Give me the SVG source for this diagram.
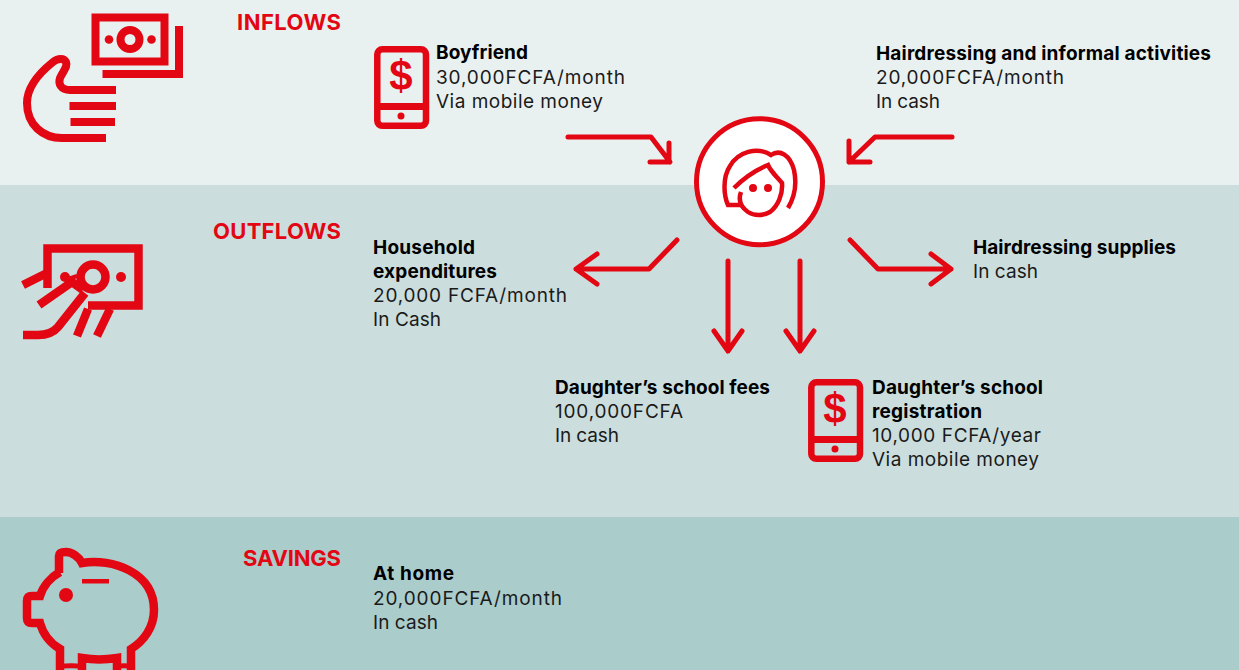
<svg xmlns="http://www.w3.org/2000/svg" width="1239" height="670" viewBox="0 0 1239 670">
<style>
text{font-family:Inter,"Liberation Sans",sans-serif;font-size:19px;fill:#1a1a1a}
.b{font-weight:700;fill:#000}
.h{font-weight:700;font-size:22px;fill:#e30613;text-anchor:end}
.d{font-family:"Liberation Sans",sans-serif;font-size:42px;font-weight:700;fill:#e30613;text-anchor:middle}
.i{fill:none;stroke:#e30613;stroke-width:8}
.o{fill:none;stroke:#e30613;stroke-width:8.500}
.p{fill:none;stroke:#e30613;stroke-width:6.500}
.r{fill:#e30613}
.a{fill:none;stroke:#e30613;stroke-width:5;stroke-linecap:round;stroke-linejoin:round}
.f{fill:none;stroke:#e30613;stroke-width:4.500}
</style>
<rect width="1239" height="185" fill="#e9f1f0"/>
<rect y="185" width="1239" height="332" fill="#cbdedd"/>
<rect y="517" width="1239" height="153" fill="#aacccb"/>
<g id="inflows">
<text class="h" x="341" y="30" textLength="104">INFLOWS</text>
<g id="inflows-icon">
<rect class="i" x="95.500" y="17.500" width="69" height="44"/>
<path class="i" d="M179 26V74H102.500"/>
<circle class="i" cx="130" cy="39.500" r="9.500"/>
<circle class="r" cx="109" cy="39.500" r="4.300"/><circle class="r" cx="151.500" cy="39.500" r="4.300"/>
<path class="i" d="M116 90H70C61 90 58 84 60 78C63 71 68 67 66 62C64 58 58 58 53 62C38 74 27 87 27 103C27 125 43 138 62 138H106"/>
<path class="i" d="M69.500 106H116M70.500 122H115"/>
</g>
</g>
<g id="outflows">
<text class="h" x="341" y="239" textLength="128">OUTFLOWS</text>
<g id="outflows-icon">
<path class="o" d="M47.500 288V248.500H138.500V305.500H88"/>
<circle class="o" cx="93" cy="277" r="12.500"/>
<circle class="r" cx="65" cy="277" r="5"/><circle class="r" cx="121" cy="277" r="5"/>
<path class="o" d="M23 285L47 273M39 305L72 282L83 290M23 335H38C46 335 53 333 58 327L85 293"/>
<path class="o" d="M88 309L77 336M110 309L97 336"/>
<path d="M65 280L77 276" class="o" style="stroke-width:4"/>
</g>
</g>
<g id="savings">
<text class="h" x="341" y="566" textLength="98">SAVINGS</text>
<g id="savings-icon">
<path class="o" d="M59 573V556C59 552 63 552 66 552C72 552 79 557 82 563C112 558 154 572 154 610C154 627 144 641 131 649V670M60 670V649C50 643 43 634 40 623H32C28 623 27 621 27 618V601C27 597 29 596 32 596H40C43 586 51 577 60 572M82 670V658C94 660 104 660 117 658V670"/>
<path class="i" style="stroke-width:5" d="M58 668C60 665 82 665 84 668M115 668C117 665 131 665 133 668"/>
<circle class="r" cx="66" cy="595" r="7"/>
<rect class="r" x="82" y="579" width="27" height="4.500"/>
</g>
</g>
<g id="person">
<circle cx="759.500" cy="181.700" r="63" fill="#fff" stroke="#e30613" stroke-width="5"/>
<path class="f" d="M743 205H728C724 196 722 178 730 166C738 152 757 146 771 155C780 149 790 155 794 170C797 184 794 198 788 208"/>
<path class="f" d="M734 188C744 178 756 170 768 165C771 172 778 178 782 183C783 194 778 206 770 212C763 216 754 216 748 212C741 207 738 200 741 192"/>
<circle class="r" cx="753" cy="188" r="4"/><circle class="r" cx="768" cy="188" r="4"/>
</g>
<g id="connectors" class="a">
<path d="M568 137H651L670 162M669 143V162H650"/>
<path d="M952 137H875L849 162M849 141V162H870"/>
<path d="M677 240L649 269H576M597 254L576 269L597 284"/>
<path d="M850 240L878 269H951M931 254L951 269L931 284"/>
<path d="M728 261V351M714 331L728 351L742 331"/>
<path d="M800 261V351M786 331L800 351L814 331"/>
</g>
<g id="boyfriend">
<rect class="p" x="377.300" y="49.300" width="48.700" height="76.500" rx="5"/><rect class="r" x="377" y="103" width="49" height="7"/><circle class="r" cx="401" cy="116" r="3.500"/><text class="d" x="401" y="90">$</text>
<text class="b" x="436" y="59" textLength="92">Boyfriend</text>
<text x="436" y="84" textLength="189">30,000FCFA/month</text>
<text x="436" y="108" textLength="167">Via mobile money</text>
</g>
<g id="hairdressing-income">
<text class="b" x="876" y="60" textLength="335">Hairdressing and informal activities</text>
<text x="876" y="84" textLength="188">20,000FCFA/month</text>
<text x="876" y="108" textLength="64">In cash</text>
</g>
<g id="household">
<text class="b" x="373" y="254" textLength="102">Household</text>
<text class="b" x="373" y="278" textLength="124">expenditures</text>
<text x="373" y="302" textLength="194">20,000 FCFA/month</text>
<text x="373" y="326" textLength="68">In Cash</text>
</g>
<g id="supplies">
<text class="b" x="973" y="254" textLength="203">Hairdressing supplies</text>
<text x="973" y="278" textLength="65">In cash</text>
</g>
<g id="school-fees">
<text class="b" x="555" y="394" textLength="215">Daughter’s school fees</text>
<text x="555" y="418" textLength="128">100,000FCFA</text>
<text x="555" y="442" textLength="64">In cash</text>
</g>
<g id="school-registration">
<rect class="p" x="811.300" y="382.300" width="48.700" height="76.500" rx="5"/><rect class="r" x="811" y="436" width="49" height="7"/><circle class="r" cx="835" cy="449" r="3.500"/><text class="d" x="835" y="423">$</text>
<text class="b" x="872" y="394" textLength="171">Daughter’s school</text>
<text class="b" x="872" y="418" textLength="110">registration</text>
<text x="872" y="442" textLength="169">10,000 FCFA/year</text>
<text x="872" y="466" textLength="167">Via mobile money</text>
</g>
<g id="at-home">
<text class="b" x="373" y="580" textLength="81">At home</text>
<text x="373" y="605" textLength="189">20,000FCFA/month</text>
<text x="373" y="629" textLength="65">In cash</text>
</g>
</svg>
